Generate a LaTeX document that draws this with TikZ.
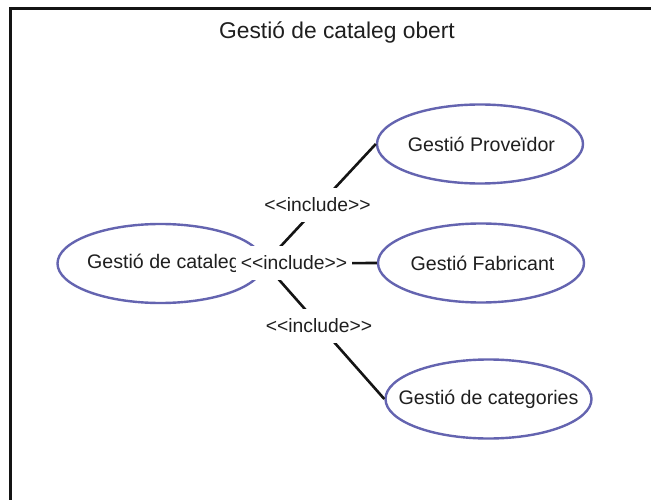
\documentclass[tikz,border=0pt]{standalone}
\usepackage{fontspec}
\setmainfont{Liberation Sans}
\usetikzlibrary{shapes.geometric}
\newcommand{\fsz}[1]{\fontsize{#1pt}{#1pt}\selectfont}
\newcommand{\uctext}[1]{\makebox[0pt][c]{#1}}
\definecolor{ucblue}{HTML}{6464B0}
\tikzset{
  x=1pt,y=-1pt,
  usecase/.style={ellipse,draw=ucblue,line width=2.4pt,fill=white,minimum width=206pt,minimum height=79pt,inner sep=0pt,text=black!88,font=\fsz{19.6}},
  rel/.style={draw=black!92,line width=2.6pt},
  inclabel/.style={fill=white,inner sep=0pt,minimum height=34pt,minimum width=116pt,text=black!88,font=\fsz{19.3}},
  framing/.style={draw=black!92,line width=3pt}
}
\begin{document}
\begin{tikzpicture}
\useasboundingbox (0,0) rectangle (651,500);
\fill[white] (0,0) rectangle (651,500);
\draw[framing] (651,8.5) -- (10,8.5) -- (10,500);
\node[font=\fsz{22.8},text=black!88] (title) at (337,32) {Gestió de cataleg obert};
\node[usecase] (main) at (160.5,263.5) {\uctext{\hspace{6pt}Gestió de cataleg}};
\node[usecase] (prov) at (480,144) {\uctext{\hspace{3pt}Gestió Proveïdor}};
\node[usecase] (fab) at (481,263) {\uctext{\hspace{3pt}Gestió Fabricant}};
\node[usecase] (cat) at (488.5,399) {\raisebox{-1.5pt}{\uctext{Gestió de categories}}};
\draw[rel] (main.east) -- (prov.west);
\draw[rel] (main.east) -- (fab.west);
\draw[rel] (main.east) -- (cat.west);
\node[inclabel] (l1) at (317.5,205) {<{}<include>{}>};
\node[inclabel] (l2) at (294,262.5) {<{}<include>{}>};
\node[inclabel] (l3) at (319,326) {<{}<include>{}>};
\end{tikzpicture}
\end{document}
